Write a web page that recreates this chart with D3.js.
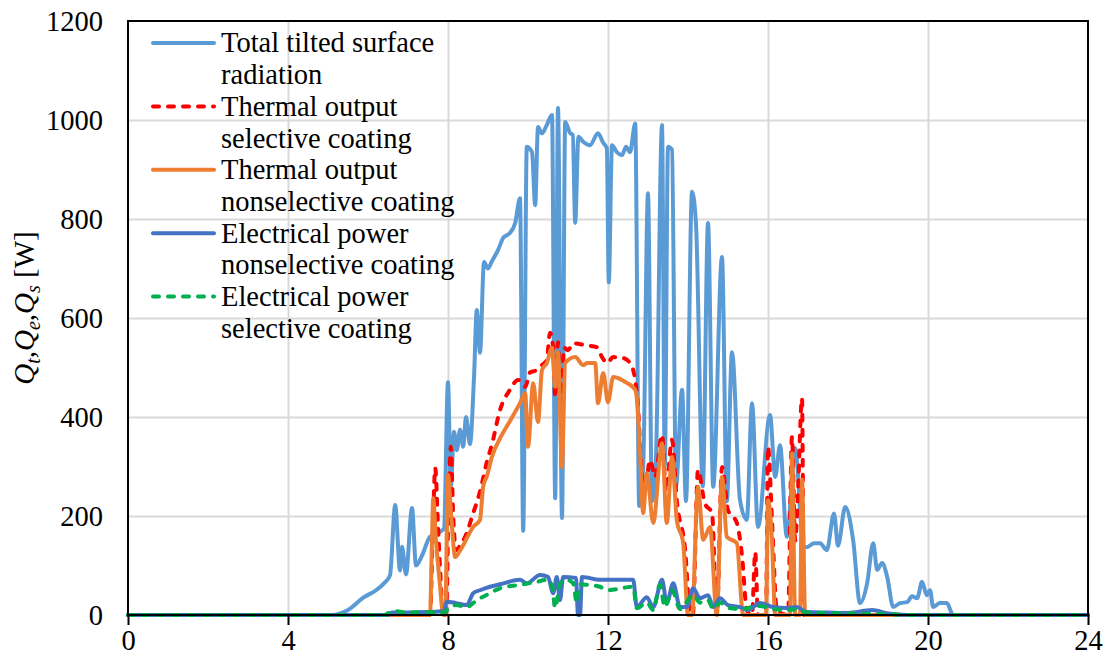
<!DOCTYPE html>
<meta charset="utf-8">

<style>

body {
  margin: 0;
  background: #fff;
}

.grid line {
  stroke: #d9d9d9;
  stroke-width: 2px;
}

.series {
  fill: none;
  stroke-width: 4px;
  stroke-linejoin: round;
  stroke-linecap: round;
}

</style>

<body>

<svg id="chart" width="1104" height="662" font-family="Liberation Serif"></svg>

<script src="https://d3js.org/d3.v7.min.js"></script>
<script>

const width = 1104
const height = 662
const serif = "Liberation Serif"

// [hour, W]
const radiation = [
  [0,0],[5.1,0],[5.5,10],[5.9,36],[6.2,50],[6.4,64],[6.55,80],[6.68,222],[6.8,90],[6.85,138],
  [6.95,82],[7.1,216],[7.2,100],[7.35,120],[7.55,158],[7.8,168],[7.9,175],[8.0,470],[8.07,260],
  [8.15,370],[8.22,333],[8.3,374],[8.38,340],[8.45,400],[8.55,345],[8.65,480],[8.72,616],[8.8,530],
  [8.9,713],[9.0,700],[9.1,715],[9.25,737],[9.38,762],[9.55,772],[9.68,792],[9.8,842],[9.88,170],
  [9.97,946],[10.1,935],[10.18,828],[10.25,986],[10.35,973],[10.47,990],[10.6,1010],[10.68,236],
  [10.75,1024],[10.85,196],[10.93,996],[11.05,974],[11.12,970],[11.18,792],[11.26,966],[11.38,956],
  [11.55,949],[11.75,973],[11.88,954],[11.97,943],[12.02,672],[12.1,949],[12.22,935],[12.35,929],
  [12.45,946],[12.55,935],[12.68,993],[12.78,220],[12.88,300],[13.0,852],[13.1,230],[13.2,320],
  [13.35,990],[13.42,300],[13.5,946],[13.6,940],[13.7,260],[13.85,455],[13.95,230],[14.1,855],
  [14.2,790],[14.37,260],[14.5,792],[14.63,259],[14.85,723],[14.97,230],[15.1,531],[15.3,232],
  [15.47,192],[15.6,428],[15.75,178],[16.05,404],[16.18,279],[16.3,343],[16.47,158],[16.68,337],
  [16.88,140],[16.97,137],[17.15,145],[17.3,145],[17.47,131],[17.65,205],[17.75,140],[17.93,218],
  [18.13,150],[18.3,24],[18.48,65],[18.63,145],[18.73,91],[18.85,105],[18.98,77],[19.13,16],
  [19.3,24],[19.48,26],[19.6,38],[19.73,34],[19.85,67],[19.97,40],[20.05,50],[20.13,16],[20.3,24],
  [20.47,24],[20.63,0],[24,0]
]

const thermalSelective = [
  [0,0],[7.55,0],[7.63,200],[7.68,297],[7.75,180],[7.8,97],[7.88,0],[7.95,0],[8.02,250],[8.07,340],
  [8.13,200],[8.2,131],[8.3,140],[8.47,166],[8.63,206],[8.75,235],[8.85,266],[8.97,309],[9.1,345],
  [9.3,414],[9.55,455],[9.75,475],[9.93,461],[10.05,490],[10.22,495],[10.35,505],[10.47,515],
  [10.55,570],[10.63,539],[10.68,440],[10.75,551],[10.82,400],[10.9,540],[11.0,535],[11.13,549],
  [11.43,545],[11.72,541],[11.85,521],[11.98,509],[12.13,521],[12.38,519],[12.55,509],[12.68,475],
  [12.75,420],[12.85,279],[12.93,259],[13.05,313],[13.18,279],[13.35,364],[13.45,250],[13.6,354],
  [13.72,232],[13.93,131],[14.05,4],[14.12,0],[14.25,293],[14.42,226],[14.6,206],[14.72,0],
  [14.85,299],[15.0,212],[15.22,186],[15.35,120],[15.47,10],[15.6,0],[15.68,127],[15.75,0],
  [15.95,0],[16.0,340],[16.1,192],[16.22,10],[16.5,0],[16.6,360],[16.68,150],[16.75,250],
  [16.85,438],[16.9,0],[24,0]
]

const thermalNonselective = [
  [0,0],[7.55,0],[7.6,150],[7.63,236],[7.7,150],[7.8,60],[7.88,0],[7.93,0],[8.0,283],[8.08,200],
  [8.18,117],[8.3,130],[8.38,141],[8.5,160],[8.63,178],[8.8,192],[8.88,260],[8.97,280],[9.1,320],
  [9.3,357],[9.55,392],[9.8,428],[9.93,448],[10.0,340],[10.13,468],[10.25,390],[10.35,495],
  [10.47,509],[10.6,540],[10.68,461],[10.75,531],[10.85,299],[10.93,509],[11.18,521],[11.38,505],
  [11.48,509],[11.68,509],[11.75,428],[11.88,489],[12.0,430],[12.13,481],[12.47,469],[12.68,455],
  [12.72,438],[12.8,333],[12.88,206],[12.97,287],[13.13,186],[13.35,347],[13.47,186],[13.6,319],
  [13.72,192],[13.88,145],[14.0,0],[14.1,0],[14.25,259],[14.38,152],[14.55,178],[14.72,0],
  [14.85,279],[14.97,158],[15.22,145],[15.38,0],[15.95,0],[16.0,232],[16.1,150],[16.18,0],
  [16.55,0],[16.6,327],[16.68,0],[16.8,0],[16.85,273],[16.93,0],[24,0]
]

const electricalNonselective = [
  [0,0],[6.5,0],[6.6,5],[7.0,5],[7.5,6],[7.9,8],[7.97,27],[8.2,24],[8.47,20],[8.63,44],[8.8,50],
  [9.05,57],[9.3,62],[9.8,71],[9.97,64],[10.3,81],[10.5,77],[10.63,44],[10.72,77],[10.8,30],
  [10.88,77],[11.2,75],[11.25,0],[11.3,0],[11.35,77],[11.8,71],[12.13,71],[12.63,71],[12.72,16],
  [12.97,36],[13.13,16],[13.35,71],[13.47,24],[13.63,64],[13.8,16],[13.97,16],[14.13,54],[14.3,34],
  [14.5,40],[14.63,16],[14.8,34],[15.0,20],[15.3,16],[15.5,10],[15.8,24],[16.13,16],[16.47,14],
  [16.72,16],[16.97,6],[17.5,5],[18.0,4],[18.6,10],[19.0,3],[19.5,0],[24,0]
]

const electricalSelective = [
  [0,0],[6.4,0],[6.63,8],[7.0,5],[7.5,6],[7.9,5],[8.0,12],[8.2,20],[8.47,16],[8.72,30],[9.05,44],
  [9.3,54],[9.8,61],[10.22,67],[10.47,71],[10.6,60],[10.68,14],[10.8,64],[10.97,71],[11.13,64],
  [11.22,24],[11.3,62],[11.47,61],[11.8,57],[11.97,50],[12.63,57],[12.72,14],[12.97,25],[13.13,10],
  [13.3,61],[13.42,16],[13.6,50],[13.8,12],[14.13,40],[14.3,25],[14.5,30],[14.63,12],[14.8,25],
  [15.0,15],[15.3,12],[15.8,18],[16.13,12],[16.47,10],[16.72,12],[16.97,5],[17.5,4],[18.0,3],
  [19.0,2],[19.5,0],[24,0]
]

const xTicks = [0, 4, 8, 12, 16, 20, 24]
const yTicks = [0, 200, 400, 600, 800, 1000, 1200]

const series = [
  {name: ["Total tilted surface", "radiation"], data: radiation, color: "#5b9bd5", dash: null},
  {name: ["Thermal output", "selective coating"], data: thermalSelective, color: "#ff0000", dash: "6,9"},
  {name: ["Thermal output", "nonselective coating"], data: thermalNonselective, color: "#ed7d31", dash: null},
  {name: ["Electrical power", "nonselective coating"], data: electricalNonselective, color: "#4472c4", dash: null},
  {name: ["Electrical power", "selective coating"], data: electricalSelective, color: "#00b050", dash: "6,9"}
]

const margin = {top: 21, right: 16, bottom: 47, left: 128}

const x = d3.scaleLinear().domain([0, 24]).range([margin.left, width - margin.right])
const y = d3.scaleLinear().domain([0, 1200]).range([height - margin.bottom, margin.top])

const svg = d3.select("#chart")

// gridlines
svg.append("g")
    .attr("class", "grid")
    .attr("transform", `translate(0,${margin.top})`)
    .call(d3.axisBottom(x).tickValues(xTicks.slice(1, -1)).tickSize(y(0) - y(1200)).tickFormat(""))
    .call(g => g.select(".domain").remove())

svg.append("g")
    .attr("class", "grid")
    .attr("transform", `translate(${margin.left},0)`)
    .call(d3.axisRight(y).tickValues(yTicks.slice(1, -1)).tickSize(x(24) - x(0)).tickFormat(""))
    .call(g => g.select(".domain").remove())

// series
const line = d3.line()
    .x(d => x(d[0]))
    .y(d => y(d[1]))
    .curve(d3.curveMonotoneX)

svg.append("g")
  .selectAll("path")
  .data(series)
  .join("path")
    .attr("class", "series")
    .attr("stroke", d => d.color)
    .attr("stroke-dasharray", d => d.dash)
    .attr("d", d => line(d.data))

// frame
svg.append("rect")
    .attr("x", x(0))
    .attr("y", y(1200))
    .attr("width", x(24) - x(0))
    .attr("height", y(0) - y(1200))
    .attr("fill", "none")
    .attr("stroke", "#000")
    .attr("stroke-width", 2)

// axes
function styleAxis(g) {
  g.attr("font-family", serif).attr("font-size", 28.5)
  g.select(".domain").remove()
  g.selectAll(".tick text").attr("fill", "#000").style("font-family", serif)
}

svg.append("g")
    .attr("transform", `translate(0,${y(0)})`)
    .call(d3.axisBottom(x).tickValues(xTicks).tickSize(10).tickPadding(5).tickFormat(d3.format("d")))
    .call(styleAxis)
    .call(g => g.selectAll(".tick line").attr("stroke", "#000").attr("stroke-width", 2))

svg.append("g")
    .attr("transform", `translate(${x(0)},0)`)
    .call(d3.axisLeft(y).tickValues(yTicks).tickSize(0).tickPadding(25).tickFormat(d3.format("d")))
    .call(styleAxis)

// y title
const title = svg.append("text")
    .attr("transform", `translate(34,${(y(0) + y(1200)) / 2 - 10}) rotate(-90)`)
    .attr("text-anchor", "middle")
    .style("font-family", serif)
    .style("font-size", "29px")

;[["Q", "t", ","], ["Q", "e", ","], ["Q", "s", " [W]"]].forEach(([q, sub, after]) => {
  title.append("tspan").style("font-style", "italic").text(q)
  title.append("tspan").style("font-style", "italic").style("font-size", "20px").attr("dy", 6).text(sub)
  title.append("tspan").attr("dy", -6).text(after)
})

// legend
const legend = svg.append("g")
const rowStep = 31.7

series.forEach((s, i) => {
  const yy = 43 + i * 2 * rowStep
  legend.append("line")
      .attr("class", "series")
      .attr("x1", 153).attr("x2", 214)
      .attr("y1", yy).attr("y2", yy)
      .attr("stroke", s.color)
      .attr("stroke-dasharray", s.dash)
  s.name.forEach((t, j) => {
    legend.append("text")
        .attr("x", 221)
        .attr("y", yy + j * rowStep)
        .attr("dy", "0.33em")
        .style("font-family", serif)
        .style("font-size", "28.5px")
        .text(t)
  })
})

</script>
